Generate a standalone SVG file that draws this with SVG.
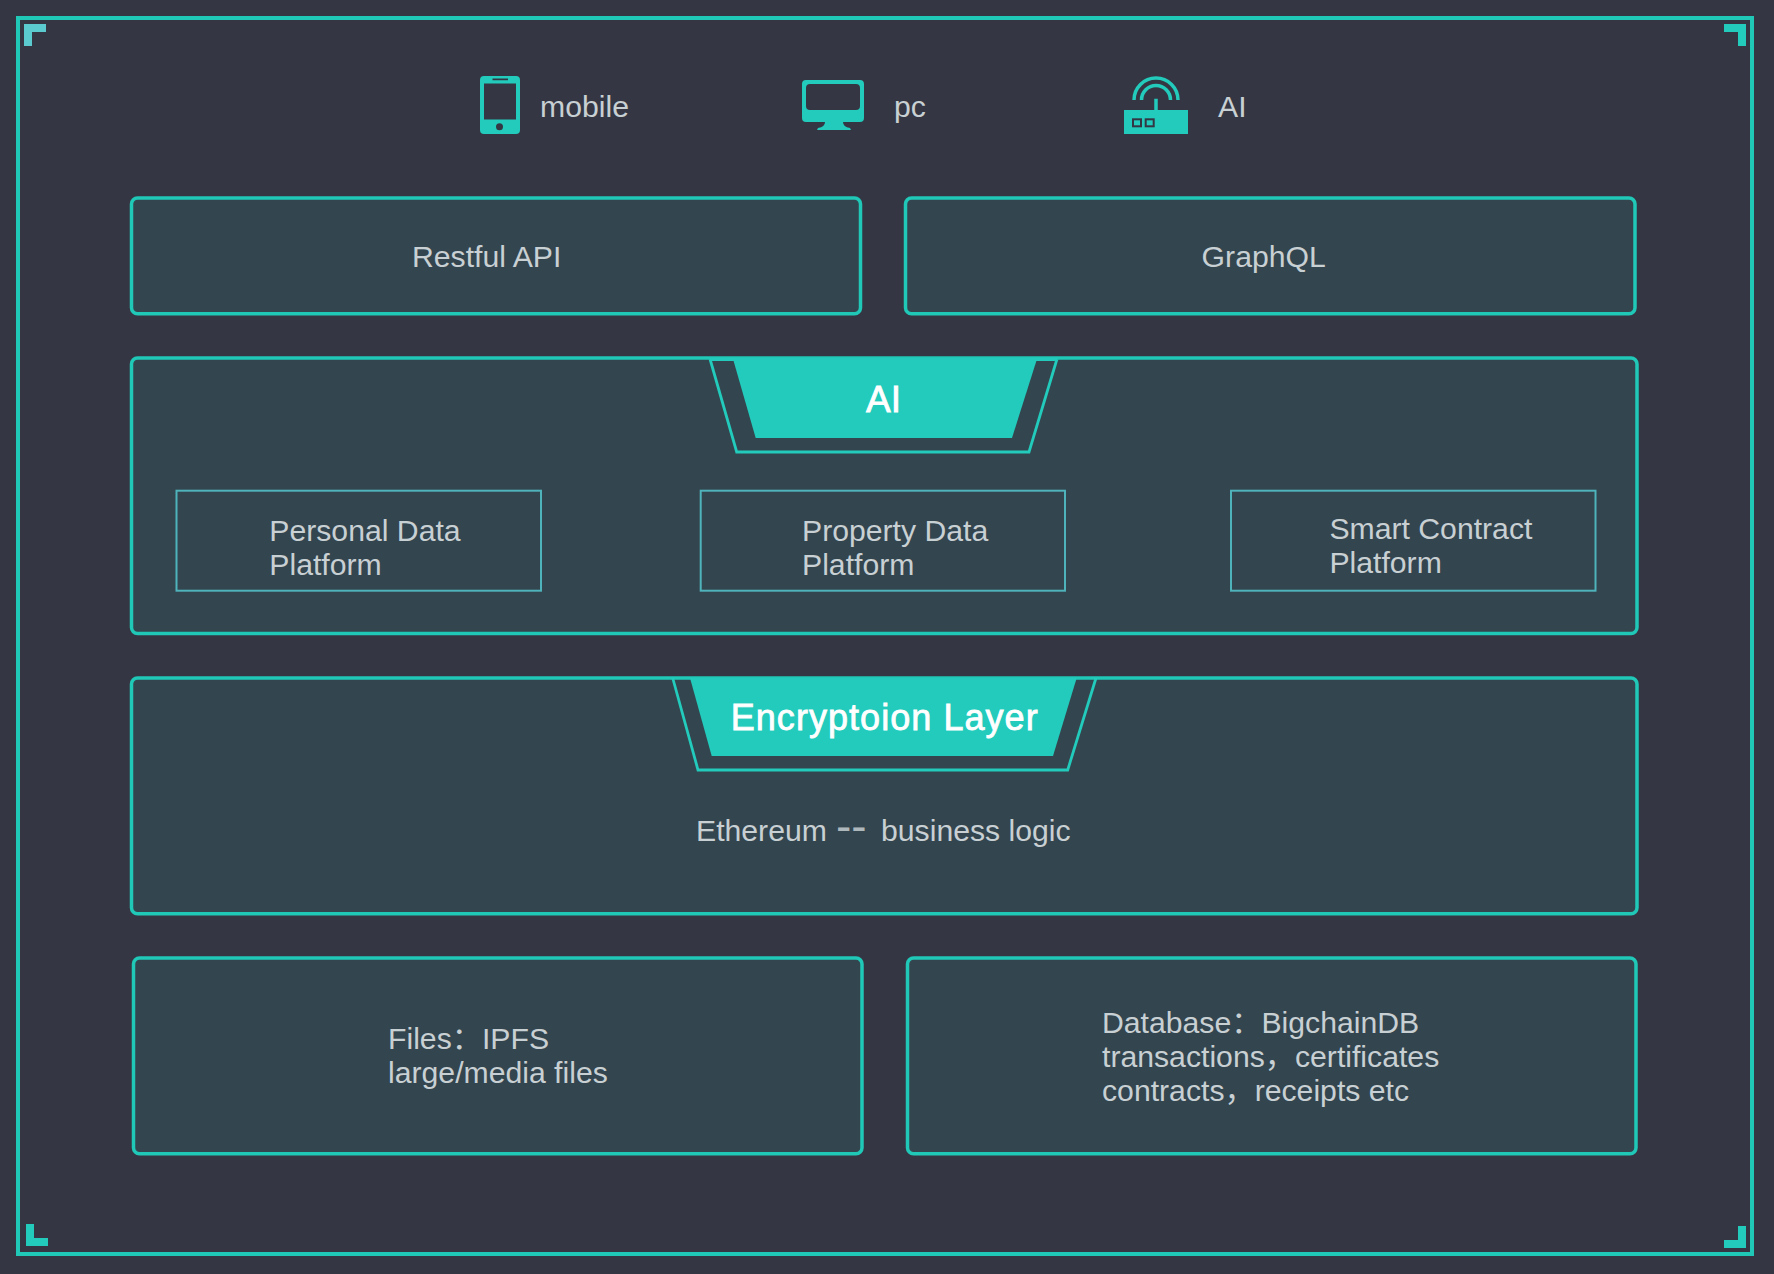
<svg xmlns="http://www.w3.org/2000/svg" width="1774" height="1274" viewBox="0 0 1774 1274">
<style>
.box{fill:#33454f;stroke:#20c8b8;stroke-width:3.5}
.sub{fill:#33454f;stroke:#4fb3bb;stroke-width:2}
.teal{fill:#22cbbb}
.line{fill:none;stroke:#22cbbb}
.corner{fill:#22cbbb}
.t{font-family:"Liberation Sans","Noto Sans CJK SC",sans-serif;font-size:30.200px;fill:#c8d0d3}
.h{font-family:"Liberation Sans","Noto Sans CJK SC",sans-serif;font-size:36px;fill:#fff;stroke:#fff;stroke-width:.8}
</style>
<rect width="1774" height="1274" fill="#343743"/>
<g id="frame">
<rect x="18" y="18" width="1734" height="1236" fill="none" stroke="#20c8b8" stroke-width="4"/>
<path fill="#5ccbd0" d="M24 24H46V32H32V46H24Z"/>
<path class="corner" d="M1724 24H1746V46H1738V32H1724Z"/>
<path class="corner" d="M26 1224H34V1238H48V1246H26Z"/>
<path class="corner" d="M1738 1226H1746V1248H1724V1240H1738Z"/>
</g>
<g id="client-mobile">
<path class="teal" fill-rule="evenodd" d="M484 76H516Q520 76 520 80V130Q520 134 516 134H484Q480 134 480 130V80Q480 76 484 76ZM484 83.500V119.500H516V83.500ZM492.500 78.600V80.200H508V78.600ZM496 126.700a3.500 3.500 0 1 0 7 0a3.500 3.500 0 1 0 -7 0Z"/>
<text class="t" x="540" y="116.700">mobile</text>
</g>
<g id="client-pc">
<path class="teal" fill-rule="evenodd" d="M806 80H860Q864 80 864 84V118Q864 122 860 122H843Q843 127 850 128L851 130H817L818 128Q825 127 825 122H806Q802 122 802 118V84Q802 80 806 80ZM810 84Q806 84 806 88V106Q806 110 810 110H856Q860 110 860 106V88Q860 84 856 84Z"/>
<text class="t" x="894" y="116.700">pc</text>
</g>
<g id="client-ai">
<rect class="teal" x="1124" y="110" width="64" height="24"/>
<rect x="1133" y="119.300" width="8" height="7" fill="none" stroke="#343743" stroke-width="2"/>
<rect x="1145.700" y="119.300" width="8" height="7" fill="none" stroke="#343743" stroke-width="2"/>
<path class="line" stroke-width="3.500" d="M1156 98.700V110M1134 100A22 22 0 0 1 1178 100M1141.500 100A14.500 14.500 0 0 1 1170.500 100"/>
<text class="t" x="1218" y="116.700">AI</text>
</g>
<g id="restful-api">
<rect class="box" x="131.500" y="198" width="729" height="115.700" rx="6"/>
<text class="t" x="412" y="266.700">Restful API</text>
</g>
<g id="graphql">
<rect class="box" x="905.500" y="198" width="729.500" height="115.700" rx="6"/>
<text class="t" x="1201.600" y="266.700">GraphQL</text>
</g>
<g id="ai-layer">
<rect class="box" x="131.500" y="358" width="1505.500" height="275.600" rx="6"/>
<path fill="#22cbbb" d="M710 358H1057V361H710Z"/>
<path class="line" stroke-width="2.800" d="M710 359L736.700 452H1029L1057 359"/>
<path class="teal" d="M733 359H1037L1012 438H755.700Z"/>
<text class="h" x="866" y="412" style="font-size:37px">AI</text>
<g id="personal-data">
<rect class="sub" x="176.500" y="490.700" width="364.500" height="100"/>
<text class="t" x="269.300" y="540.500">Personal Data</text>
<text class="t" x="269.300" y="574.500">Platform</text>
</g>
<g id="property-data">
<rect class="sub" x="700.700" y="490.700" width="364.300" height="100"/>
<text class="t" x="802" y="540.500">Property Data</text>
<text class="t" x="802" y="574.500">Platform</text>
</g>
<g id="smart-contract">
<rect class="sub" x="1231" y="490.700" width="364.500" height="100"/>
<text class="t" x="1329.400" y="539">Smart Contract</text>
<text class="t" x="1329.400" y="573">Platform</text>
</g>
</g>
<g id="encryption-layer">
<rect class="box" x="131.500" y="678" width="1505.500" height="235.700" rx="6"/>
<path class="line" stroke-width="2.800" d="M672.700 678L698 770H1067.700L1096 678"/>
<path class="teal" d="M690 678H1076.700L1053 756H711.700Z"/>
<text class="h" x="730.700" y="729.500" textLength="307">Encryptoion Layer</text>
<text class="t" x="696" y="841"><tspan>Ethereum</tspan><tspan x="836" dy="1" style="font-size:46px;fill:#aeb8bc">--</tspan><tspan x="881" dy="-1">business logic</tspan></text>
</g>
<g id="files">
<rect class="box" x="133.500" y="958" width="728.500" height="195.700" rx="6"/>
<text class="t" x="388" y="1048.700">Files：IPFS</text>
<text class="t" x="388" y="1083">large/media files</text>
</g>
<g id="database">
<rect class="box" x="907.500" y="958" width="728.500" height="195.700" rx="6"/>
<text class="t" x="1102" y="1032.500">Database：BigchainDB</text>
<text class="t" x="1102" y="1066.700">transactions，certificates</text>
<text class="t" x="1102" y="1100.700">contracts，receipts etc</text>
</g>
</svg>
